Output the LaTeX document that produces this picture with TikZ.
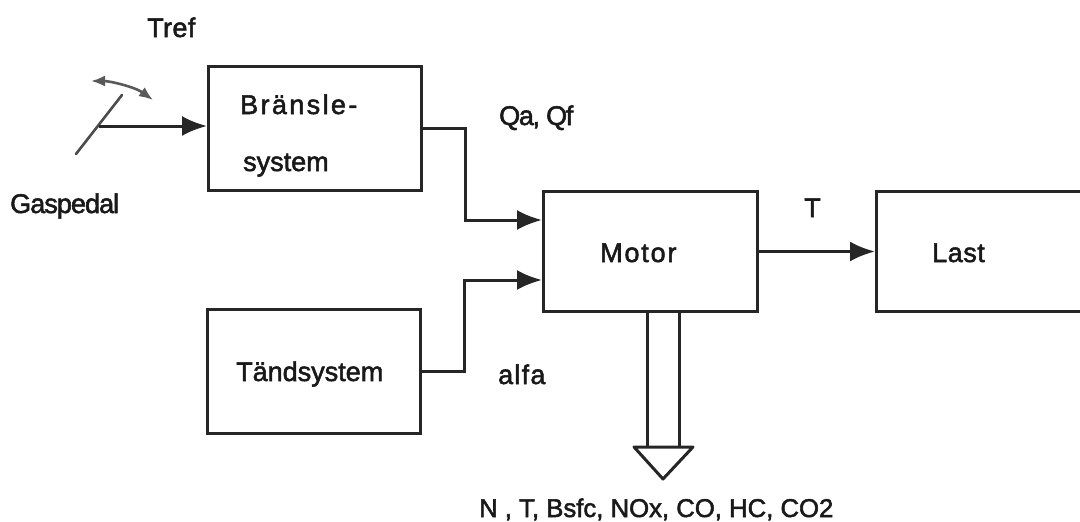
\documentclass[tikz,border=0pt]{standalone}
\usepackage{fontspec}
\setmainfont{Liberation Sans}
\newcommand{\lblfont}[2]{\fontsize{#1}{#1}\selectfont\addfontfeatures{LetterSpace=#2,FakeBold=2}}
\usetikzlibrary{arrows.meta,calc}
\tikzset{
  block/.style={draw=black!85,line width=3pt,rectangle,inner sep=0pt,anchor=north west},
  lbl/.style={inner sep=0pt,anchor=base west,text=black!90,font=\lblfont{27}{#1}},
  lbl/.default=0,
  conn/.style={draw=black!85,line width=3pt},
  flow/.style={conn,-{Latex[length=25pt,width=20pt]}},
}
\begin{document}
\begin{tikzpicture}[x=1pt,y=-1pt]
\useasboundingbox (0,0) rectangle (1080,522);
\node[block,minimum width=213pt,minimum height=124pt] (bransle) at (207,65) {};
\node[block,minimum width=214pt,minimum height=120pt] (motor) at (542,190) {};
\node[block,minimum width=213pt,minimum height=124pt] (tand) at (206,308) {};
\node[block,minimum width=210pt,minimum height=120pt] (last) at (875,190) {};
\node[lbl=1.5] (tref) at (147,37) {Tref};
\node[lbl=-3.5] (gas) at (10,213) {Gaspedal};
\node[lbl=8.8] (tb1) at (240,114) {Bränsle-};
\node[lbl] (tb2) at (243,171) {system};
\node[lbl=-5] (qa) at (499,125) {Qa, Qf};
\node[lbl] (tt) at (236,381) {Tändsystem};
\node[lbl=4.6] (alfa) at (498,384) {alfa};
\node[lbl=6.7] (mot) at (600,262) {Motor};
\node[lbl] (tq) at (804,217) {T};
\node[lbl=2] (la) at (932,262) {Last};
\node[inner sep=0pt,anchor=base west,text=black!90,font=\lblfont{25.7}{0}] (out) at (479,517) {N , T, Bsfc, NOx, CO, HC, CO2};
% pedal
\coordinate (pedtop) at (122,95);
\coordinate (pedbot) at (76,154);
\coordinate (pedjoint) at (99,126);
\coordinate (swingL) at (91,81);
\coordinate (swingR) at (153,100);
\draw[draw=black!70,line width=2.6pt,line cap=round] (pedtop) -- (pedbot);
\draw[draw=black!65,line width=2.6pt,{Latex[length=14pt,width=11pt]}-{Latex[length=14pt,width=11pt]}] (swingL) .. controls (110,81) and (135,87) .. (swingR);
\draw[flow] (pedjoint) -- (pedjoint -| bransle.west);
% feeds
\coordinate (m1) at (motor.west |- 0,220);
\coordinate (m2) at (motor.west |- 0,280);
\coordinate (b1) at (bransle.east |- 0,128);
\coordinate (t1) at (tand.east |- 0,371);
\draw[flow] (b1) -- (465,128) -- (465,220) -- (m1);
\draw[flow] (t1) -- (464,371) -- (464,280) -- (m2);
\draw[flow] (motor.east) -- (last.west);
% hollow output arrow
\coordinate (o1) at (motor.south -| 647,0);
\coordinate (o2) at (motor.south -| 679,0);
\coordinate (tipL) at (634,447);
\coordinate (tipR) at (693,447);
\coordinate (tip) at (663,479);
\draw[conn] (o1) -- (647,447);
\draw[conn] (o2) -- (679,447);
\draw[conn,line join=round] (tipL) -- (tipR) -- (tip) -- cycle;
\end{tikzpicture}
\end{document}
